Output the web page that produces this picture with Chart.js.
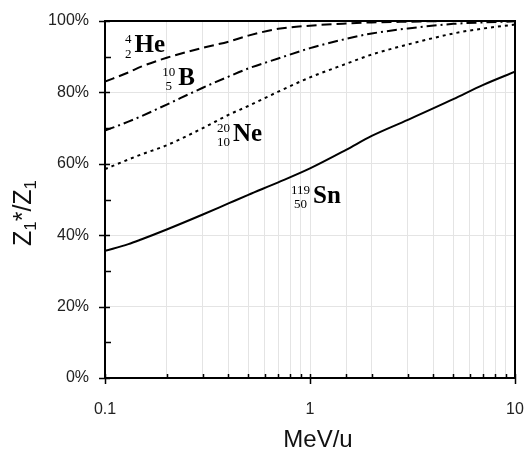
<!DOCTYPE html>
<html>
<head>
<meta charset="utf-8">
<script src="https://cdn.jsdelivr.net/npm/chart.js@4.4.0/dist/chart.umd.min.js"></script>
<style>
  html, body { margin: 0; padding: 0; background: #fff; }
  #wrap { width: 528px; height: 452px; }
</style>
</head>
<body>
<div id="wrap"><canvas id="chart"></canvas></div>
<script>
// energy per nucleon (MeV/u) and effective charge fraction Z1*/Z1 in %
const energies = [0.1, 0.13, 0.15, 0.2, 0.3, 0.4, 0.5, 0.7, 1, 1.5, 2, 3, 5, 7, 10];
const heVals = [83.0, 85.6, 87.2, 89.7, 92.5, 94.2, 95.9, 97.8, 98.7, 99.3, 99.6, 99.8, 100, 100, 100];
const bVals  = [69.3, 71.8, 73.3, 76.6, 81.3, 84.4, 86.7, 89.5, 92.4, 95.0, 96.5, 97.9, 99.2, 99.6, 99.9];
const neVals = [58.5, 61.2, 62.6, 65.2, 70.0, 73.7, 76.2, 80.2, 84.2, 88.0, 90.6, 93.4, 96.5, 97.9, 99.0];
const snVals = [35.6, 37.5, 38.8, 41.6, 45.8, 48.9, 51.3, 54.8, 58.7, 63.9, 67.8, 72.3, 78.1, 82.1, 85.8];

const xLabels = [0.1, 1, 10];

// nuclide tags: mass number, atomic number, symbol, placed in data coordinates
const nuclides = [
  { sym: 'He', mass: '4',   z: '2',  x: 0.1253, y: 91.3 },
  { sym: 'B',  mass: '10',  z: '5',  x: 0.190,  y: 82.1 },
  { sym: 'Ne', mass: '20',  z: '10', x: 0.352,  y: 66.5 },
  { sym: 'Sn', mass: '119', z: '50', x: 0.808,  y: 49.1 }
];

const series = [
  { label: 'He', data: heVals, dash: [10, 5] },
  { label: 'B',  data: bVals,  dash: [10, 4, 2, 4] },
  { label: 'Ne', data: neVals, dash: [3, 4] },
  { label: 'Sn', data: snVals, dash: [] }
];

const sans = '"Liberation Sans", Arial, sans-serif';
const serif = '"Liberation Serif", "Times New Roman", serif';

const isMajor = v => Math.abs(Math.log10(v) - Math.round(Math.log10(v))) < 1e-6;

// frame, tick marks, axis titles and nuclide tags
const decorations = {
  id: 'decorations',
  afterDraw(chart) {
    const ctx = chart.ctx;
    const a = chart.chartArea;
    const xs = chart.scales.x, ys = chart.scales.y;
    ctx.save();
    ctx.strokeStyle = '#000';

    // top and right edges of the box
    ctx.lineWidth = 2;
    ctx.beginPath();
    ctx.moveTo(a.left, a.top);
    ctx.lineTo(a.right, a.top);
    ctx.lineTo(a.right, a.bottom);
    ctx.stroke();

    ctx.lineWidth = 1.5;
    ctx.beginPath();
    xs.ticks.forEach(t => {
      const px = Math.round(xs.getPixelForValue(t.value)) + 0.5;
      if (isMajor(t.value)) {
        ctx.moveTo(px, a.bottom - 4);
        ctx.lineTo(px, a.bottom + 6);
      } else {
        ctx.moveTo(px, a.bottom - 4);
        ctx.lineTo(px, a.bottom);
      }
    });
    ys.ticks.forEach(t => {
      const py = Math.round(ys.getPixelForValue(t.value)) + 0.5;
      if (t.value % 20 === 0) {
        ctx.moveTo(a.left - 6, py);
        ctx.lineTo(a.left + 5, py);
      } else {
        ctx.moveTo(a.left, py);
        ctx.lineTo(a.left + 6, py);
      }
    });
    ctx.stroke();

    // axis titles
    ctx.fillStyle = '#111';
    ctx.textBaseline = 'middle';
    ctx.textAlign = 'center';
    ctx.font = '24px ' + sans;
    ctx.fillText('MeV/u', (a.left + a.right) / 2 + 8, 440);

    ctx.save();
    ctx.translate(23, 213);
    ctx.rotate(-Math.PI / 2);
    ctx.textAlign = 'left';
    ctx.textBaseline = 'alphabetic';
    const parts = [
      { t: 'Z', f: '25px ' + sans, dy: 0 },
      { t: '1', f: '17px ' + sans, dy: 5 },
      { t: '*/Z', f: '25px ' + sans, dy: 0 },
      { t: '1', f: '17px ' + sans, dy: 5 }
    ];
    let total = 0;
    parts.forEach(p => { ctx.font = p.f; p.w = ctx.measureText(p.t).width; total += p.w; });
    let cx = -total / 2;
    parts.forEach(p => {
      ctx.font = p.f;
      ctx.fillText(p.t, cx, 8 + p.dy);
      cx += p.w;
    });
    ctx.restore();

    // nuclide tags
    ctx.fillStyle = '#000';
    ctx.textBaseline = 'alphabetic';
    nuclides.forEach(n => {
      const px = xs.getPixelForValue(n.x);
      const py = ys.getPixelForValue(n.y);
      ctx.font = '13px ' + serif;
      const wm = ctx.measureText(n.mass).width;
      const wz = ctx.measureText(n.z).width;
      const col = Math.max(wm, wz);
      ctx.textAlign = 'center';
      ctx.fillText(n.mass, px + col / 2, py - 9);
      ctx.fillText(n.z, px + col / 2, py + 5.5);
      ctx.font = 'bold 25px ' + serif;
      ctx.textAlign = 'left';
      ctx.fillText(n.sym, px + col + 3, py);
    });
    ctx.restore();
  }
};

new Chart(document.getElementById('chart'), {
  type: 'line',
  data: {
    labels: energies,
    datasets: series.map(s => ({
      label: s.label,
      data: energies.map((e, i) => ({ x: e, y: s.data[i] })),
      borderColor: '#000',
      borderWidth: 2,
      borderDash: s.dash,
      pointRadius: 0,
      fill: false,
      cubicInterpolationMode: 'monotone'
    }))
  },
  options: {
    responsive: true,
    maintainAspectRatio: false,
    animation: false,
    layout: { padding: { top: 21, right: 13, left: 0, bottom: 0 } },
    plugins: { legend: { display: false }, tooltip: { enabled: false } },
    scales: {
      x: {
        type: 'logarithmic',
        min: 0.1,
        max: 10,
        afterFit: s => { s.height = 74; s.paddingLeft = 0; s.paddingRight = 0; },
        border: { color: '#000', width: 2 },
        grid: { color: '#e4e4e4', lineWidth: 1, drawTicks: false },
        ticks: {
          autoSkip: false,
          maxRotation: 0,
          padding: 22,
          color: '#222',
          font: { family: sans, size: 16 },
          callback: v => xLabels.some(l => Math.abs(l - v) < 1e-9) ? String(v) : ''
        }
      },
      y: {
        min: 0,
        max: 100,
        afterFit: s => { s.width = 105; s.paddingTop = 0; s.paddingBottom = 0; },
        border: { color: '#000', width: 2 },
        grid: {
          color: c => (c.tick && c.tick.value % 20 === 0) ? '#e4e4e4' : 'rgba(0,0,0,0)',
          lineWidth: 1,
          drawTicks: false
        },
        ticks: {
          stepSize: 10,
          autoSkip: false,
          padding: 16,
          color: '#222',
          font: { family: sans, size: 16 },
          callback: v => v % 20 === 0 ? v + '%' : ''
        }
      }
    }
  },
  plugins: [decorations]
});
</script>
</body>
</html>
